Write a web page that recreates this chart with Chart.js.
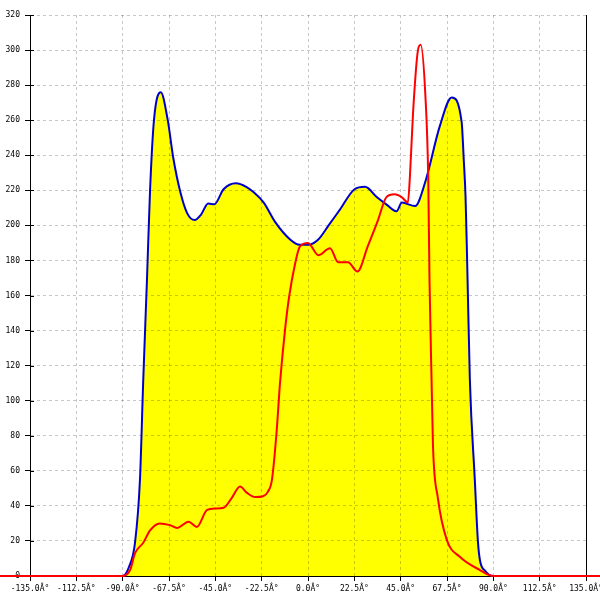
<!DOCTYPE html>
<html><head><meta charset="utf-8">
<script src="https://cdn.jsdelivr.net/npm/chart.js@4"></script>
<style>html,body{margin:0;padding:0;background:#fff}</style>
</head><body>
<canvas id="c" width="600" height="600" style="display:block;width:600px;height:600px"></canvas>
<script>
const blueAngles = [-180, -90, -87, -84, -81.6, -80, -78.2, -76.7, -74.8, -71.5, -68.1, -65.5, -62, -58.7, -55, -52, -48.5, -45.5, -41, -35, -30, -26.5, -21.5, -16, -8.7, -4, 0, 5, 10, 15.5, 22.6, 27.7, 33.5, 38, 43, 45.6, 52, 57, 64, 69.8, 74.6, 75.7, 76.5, 77.3, 78.6, 81, 82.5, 83.5, 86, 90, 180];
const blueValues = [0, 0, 5, 19, 55, 112, 169, 220, 260, 276, 260, 239, 219, 207, 203, 206, 212.5, 212, 220.6, 224, 222, 219, 213, 202, 192, 189, 189, 192, 200, 209, 220.6, 222, 216, 212, 208, 213, 211, 225, 256.6, 273, 259, 236, 216.6, 179, 112, 55, 20, 9, 3, 0, 0];
const redAngles = [-180, -90, -86.4, -84, -80, -76.7, -72, -67, -63.6, -58, -54, -49, -45, -41, -37, -33, -29.6, -25.7, -21.8, -19.5, -17.5, -15.2, -13.6, -11.2, -9.2, -6.3, -3.9, 0, 5, 10.7, 14.6, 19.4, 24, 29, 34, 38, 42, 45.6, 48.5, 49.5, 51, 53.4, 54.7, 57, 58.4, 59, 60, 60.7, 63, 67.4, 73.7, 83.5, 90, 180];
const redValues = [0, 0, 3.4, 13, 19, 26, 30, 29, 27.4, 31, 28, 37.7, 38.5, 38.9, 44.6, 51, 47.4, 45, 45.5, 48, 55, 83, 110, 140, 159, 178, 188, 190, 183, 187, 179, 179, 173.7, 188, 203, 216, 217.7, 216, 213, 228, 264, 300, 303, 274, 226, 169, 112, 74, 45, 20.6, 11, 3.4, 0, 0];
const xTicks = [-135, -112.5, -90, -67.5, -45, -22.5, 0, 22.5, 45, 67.5, 90, 112.5, 135];
const xTickLabels = ['-135.0Â°', '-112.5Â°', '-90.0Â°', '-67.5Â°', '-45.0Â°', '-22.5Â°', '0.0Â°', '22.5Â°', '45.0Â°', '67.5Â°', '90.0Â°', '112.5Â°', '135.0Â°'];
const yTicks = [0, 20, 40, 60, 80, 100, 120, 140, 160, 180, 200, 220, 240, 260, 280, 300, 320];
const yTickLabels = ['0', '20', '40', '60', '80', '100', '120', '140', '160', '180', '200', '220', '240', '260', '280', '300', '320'];

const toPts = (xs, ys) => xs.map((x, i) => ({x: x, y: ys[i]}));
const tickFont = {family: 'DejaVu Sans Mono', size: 8};

const extras = {
  id: 'extras',
  beforeDatasetsDraw(chart) {
    const {ctx, chartArea: a, scales: {y}} = chart;
    ctx.save();
    ctx.strokeStyle = '#000';
    ctx.lineWidth = 1;
    ctx.beginPath();
    const rx = Math.round(a.right) + 0.5;
    ctx.moveTo(rx, a.top); ctx.lineTo(rx, a.bottom);
    y.ticks.forEach(t => {
      const py = Math.round(y.getPixelForValue(t.value)) + 0.5;
      ctx.moveTo(a.left, py); ctx.lineTo(a.left + 4, py);
    });
    ctx.stroke();
    ctx.restore();
  }
};

new Chart(document.getElementById('c'), {
  type: 'line',
  data: {
    datasets: [
      {data: toPts(redAngles, redValues), borderColor: '#ff0000', borderWidth: 2, fill: false, order: 0, clip: false,
       cubicInterpolationMode: 'monotone', pointRadius: 0},
      {data: toPts(blueAngles, blueValues), borderColor: '#0000cc', borderWidth: 2, backgroundColor: '#ffff00', fill: 'origin', order: 1, clip: false,
       cubicInterpolationMode: 'monotone', pointRadius: 0}
    ]
  },
  options: {
    responsive: false, animation: false, devicePixelRatio: 1,
    layout: {padding: {top: 15, right: 14, left: 0, bottom: 0}},
    plugins: {legend: {display: false}, tooltip: {enabled: false}, filler: {drawTime: 'beforeDraw'}},
    scales: {
      x: {
        type: 'linear', min: -135, max: 135,
        afterBuildTicks: s => { s.ticks = xTicks.map(v => ({value: v})); },
        afterFit: s => { s.height = 24; s.paddingLeft = 0; s.paddingRight = 0; },
        ticks: {callback: (v, i) => xTickLabels[i], font: tickFont, color: '#000', padding: 3, maxRotation: 0, autoSkip: false},
        grid: {color: 'rgba(0,0,0,0.22)', tickColor: '#000', tickLength: 5, tickBorderDash: [], lineWidth: 1},
        border: {display: true, color: '#000', width: 1, dash: [3, 3]}
      },
      y: {
        type: 'linear', min: 0, max: 320,
        afterBuildTicks: s => { s.ticks = yTicks.map(v => ({value: v})); },
        afterFit: s => { s.width = 30; s.paddingTop = 0; s.paddingBottom = 0; },
        ticks: {callback: (v, i) => yTickLabels[i], font: tickFont, color: '#000', padding: 5, autoSkip: false},
        grid: {color: 'rgba(0,0,0,0.22)', tickColor: '#000', tickLength: 5, tickBorderDash: [], lineWidth: 1},
        border: {display: true, color: '#000', width: 1, dash: [3, 3]}
      }
    }
  },
  plugins: [extras]
});
</script>
</body></html>
